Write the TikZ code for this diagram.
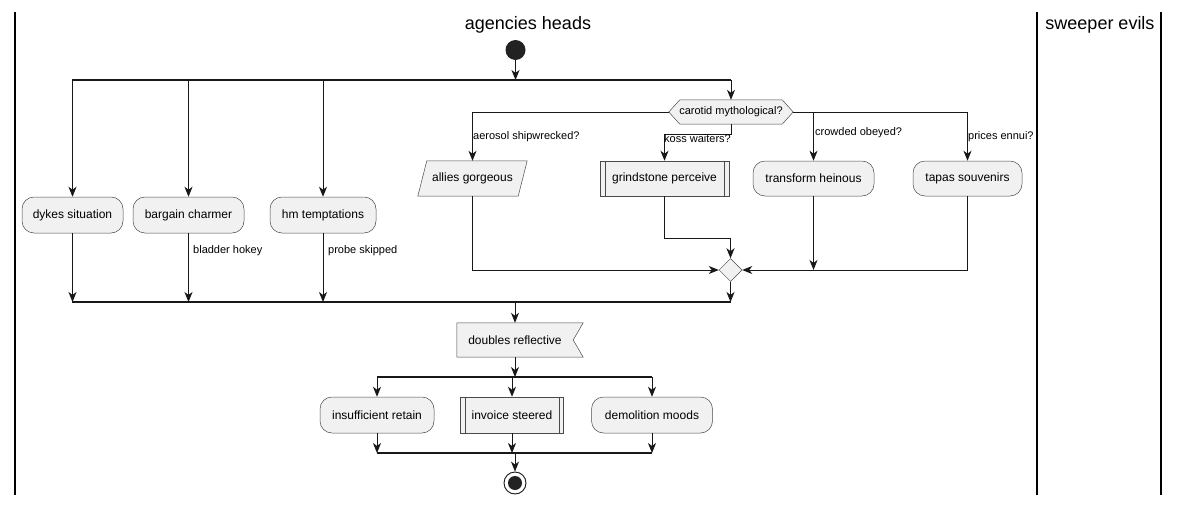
\documentclass[tikz,border=0pt]{standalone}
\usepackage{fontspec}
\setmainfont{Liberation Sans}
\usetikzlibrary{arrows.meta,shapes.geometric,backgrounds}
\definecolor{fillc}{HTML}{F1F1F1}
\definecolor{linec}{HTML}{181818}
\definecolor{borderc}{HTML}{4A4A4A}
\definecolor{startc}{HTML}{222222}
\begin{document}
\begin{tikzpicture}[x=1pt,y=-1pt,
 boxtext/.style={font=\fontsize{12}{14}\selectfont},
 act/.style={draw=borderc, line width=0.5pt, fill=fillc, rounded corners=12pt, minimum height=36pt, inner sep=0pt, boxtext},
 subp/.style={draw=borderc, line width=0.5pt, fill=fillc, minimum height=35pt, inner sep=0pt, boxtext},
 plain/.style={inner sep=0pt, boxtext},
 shp/.style={draw=borderc, line width=0.5pt, fill=fillc},
 lbl/.style={inner sep=0pt, anchor=west, font=\fontsize{11}{13}\selectfont},
 flow/.style={draw=linec, line width=0.9pt, -{Stealth[length=10pt,width=8pt,inset=3pt]}},
 conn/.style={draw=linec, line width=0.9pt},
 bar/.style={draw=linec, line width=1.8pt},
 lane/.style={draw=black, line width=1.2pt},
 lanetitle/.style={font=\fontsize{18}{21}\selectfont},
]
\useasboundingbox (0,0) rectangle (1179,506);
\fill[white] (0,0) rectangle (1179,506);
% swimlanes
\draw[lane] (15,12) -- (15,495);
\draw[lane] (1037,12) -- (1037,495);
\draw[lane] (1161,12) -- (1161,495);
\node[lanetitle] (t1) at (528,25) {agencies heads};
\node[lanetitle] (t2) at (1100,25) {sweeper evils};
% start
\node[circle, fill=startc, minimum size=20pt, inner sep=0pt] (start) at (515.5,50) {};
\coordinate (f1l) at (72,80);
\coordinate (f1r) at (731,80);
\draw[bar] (f1l) -- (f1r);
\draw[flow] (start) -- (start |- f1l);
% left branches
\node[act, minimum width=101pt] (dykes) at (72.5,215) {dykes situation};
\node[act, minimum width=111pt] (barg) at (188.5,215) {bargain charmer};
\node[act, minimum width=106pt] (hm) at (323,215) {hm temptations};
\draw[flow] (dykes.north |- f1l) -- (dykes.north);
\draw[flow] (barg.north |- f1l) -- (barg.north);
\draw[flow] (hm.north |- f1l) -- (hm.north);
% decision
\node[minimum width=124pt, minimum height=24pt, inner sep=0pt] (dec) at (731,112) {};
\draw[shp] (dec.west) -- ([xshift=11pt]dec.north west) -- ([xshift=-11pt]dec.north east) -- (dec.east) -- ([xshift=-11pt]dec.south east) -- ([xshift=11pt]dec.south west) -- cycle;
\node[inner sep=0pt, font=\fontsize{11}{13}\selectfont] (dect) at (dec) {carotid mythological?};
\draw[flow] (f1r) -- (dec.north);
% decision branches
\node[minimum width=100pt, minimum height=35pt, inner sep=0pt] (allies) at (472.5,178.5) {};
\draw[shp] ([xshift=-4.5pt]allies.south west) -- ([xshift=4.5pt]allies.north west) -- ([xshift=4.5pt]allies.north east) -- ([xshift=-4.5pt]allies.south east) -- cycle;
\node[plain] (alliest) at (allies) {allies gorgeous};
\node[subp, minimum width=129pt] (grind) at (664.5,178.5) {grindstone perceive};
\draw[draw=borderc, line width=0.5pt] ([xshift=5pt]grind.north west) -- ([xshift=5pt]grind.south west);
\draw[draw=borderc, line width=0.5pt] ([xshift=-5pt]grind.north east) -- ([xshift=-5pt]grind.south east);
\node[act, minimum width=121pt, minimum height=35pt] (trans) at (813.5,178.5) {transform heinous};
\node[act, minimum width=109pt, minimum height=35pt] (tapas) at (967.5,178.5) {tapas souvenirs};
\coordinate (dk) at (731,134);
\draw[flow] (dec.west) -| (allies.north);
\draw[flow] (dec.south) -- (dk) -| (grind.north);
\draw[flow] (dec.east) -| (tapas.north);
\draw[flow] (dec.east) -| (trans.north);
\node[lbl] (la) at (473,137) {aerosol shipwrecked?};
\node[lbl] (lk) at (664,139) {koss waiters?};
\node[lbl] (lc) at (815,133) {crowded obeyed?};
\node[lbl] (lp) at (968,137) {prices ennui?};
% merge
\node[diamond, draw=borderc, fill=fillc, line width=0.5pt, minimum width=23pt, minimum height=23pt, inner sep=0pt] (mrg) at (730.5,270) {};
\coordinate (gk) at (664.5,238);
\draw[flow] (allies.south) |- (mrg.west);
\draw[flow] (grind.south) -- (gk) -| (mrg.north);
\draw[flow] (tapas.south) |- (mrg.east);
\draw[flow] (trans.south) -- (trans.south |- mrg.west);
% join 1
\coordinate (j1l) at (72,302);
\coordinate (j1r) at (730.5,302);
\draw[bar] (j1l) -- (j1r);
\draw[flow] (mrg.south) -- (mrg.south |- j1l);
\draw[flow] (dykes.south) -- (dykes.south |- j1l);
\draw[flow] (barg.south) -- (barg.south |- j1l);
\draw[flow] (hm.south) -- (hm.south |- j1l);
\node[lbl] (lb) at (193,251) {bladder hokey};
\node[lbl] (lq) at (328,251) {probe skipped};
% doubles reflective
\node[minimum width=116pt, minimum height=34pt, inner sep=0pt] (dbl) at (515,340) {};
\draw[shp] (dbl.north west) -- ([xshift=10pt]dbl.north east) -- (dbl.east) -- ([xshift=10pt]dbl.south east) -- (dbl.south west) -- cycle;
\node[plain] (dblt) at (dbl) {doubles reflective};
\draw[flow] (dbl.north |- j1l) -- (dbl.north);
% fork 2
\coordinate (f2l) at (377,377);
\coordinate (f2r) at (652,377);
\draw[bar] (f2l) -- (f2r);
\draw[flow] (dbl.south) -- (dbl.south |- f2l);
\node[act, minimum width=114pt] (insuf) at (377,415) {insufficient retain};
\node[subp, minimum width=103pt, minimum height=36pt] (inv) at (512,415) {invoice steered};
\draw[draw=borderc, line width=0.5pt] ([xshift=5pt]inv.north west) -- ([xshift=5pt]inv.south west);
\draw[draw=borderc, line width=0.5pt] ([xshift=-5pt]inv.north east) -- ([xshift=-5pt]inv.south east);
\node[act, minimum width=121pt] (demo) at (652,415) {demolition moods};
\draw[flow] (insuf.north |- f2l) -- (insuf.north);
\draw[flow] (inv.north |- f2l) -- (inv.north);
\draw[flow] (demo.north |- f2l) -- (demo.north);
% join 2
\coordinate (j2l) at (377,453);
\coordinate (j2r) at (652,453);
\draw[bar] (j2l) -- (j2r);
\draw[flow] (insuf.south) -- (insuf.south |- j2l);
\draw[flow] (inv.south) -- (inv.south |- j2l);
\draw[flow] (demo.south) -- (demo.south |- j2l);
% end
\node[circle, draw=linec, line width=0.9pt, fill=white, minimum size=22pt, inner sep=0pt] (endn) at (515,483) {};
\node[circle, fill=startc, minimum size=14pt, inner sep=0pt] (endi) at (endn) {};
\draw[flow] (endn.north |- j2l) -- (endn.north);
\end{tikzpicture}
\end{document}
